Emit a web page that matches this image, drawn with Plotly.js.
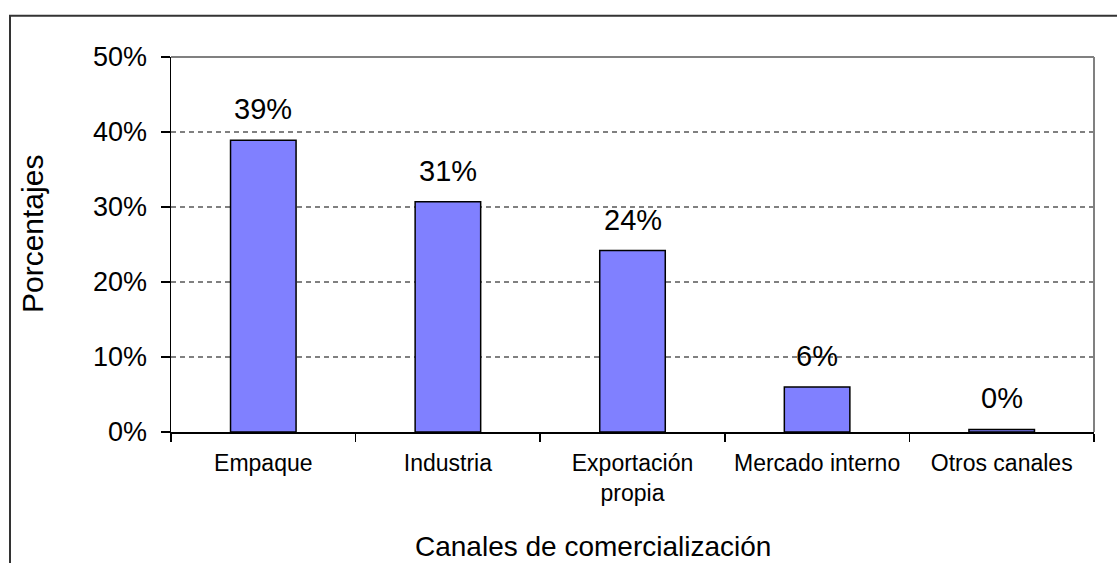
<!DOCTYPE html>
<html>
<head>
<meta charset="utf-8">
<script src="https://cdn.plot.ly/plotly-3.0.1.min.js"></script>
<style>html,body{margin:0;padding:0;background:#fff;}#chart{width:1117px;height:563px;}</style>
</head>
<body>
<div id="chart"></div>
<script>
var categories = ["Empaque", "Industria", "Exportación<br>propia", "Mercado interno", "Otros canales"];
var values = [38.9, 30.7, 24.2, 6.0, 0.35];
var valueLabels = ["39%", "31%", "24%", "6%", "0%"];
var yTickValues = [0, 10, 20, 30, 40, 50];
var yTickLabels = ["0%", "10%", "20%", "30%", "40%", "50%"];
var xTitle = "Canales de comercialización";
var yTitle = "Porcentajes";

var FONT = "Liberation Sans, Arial, sans-serif";

var trace = {
  type: "bar",
  x: categories,
  y: values,
  marker: {color: "#8080FF", line: {color: "#000000", width: 1.5}},
  hoverinfo: "none"
};

var annotations = categories.map(function (c, i) {
  return {
    x: c, y: values[i], xref: "x", yref: "y",
    text: valueLabels[i], showarrow: false,
    yanchor: "bottom", yshift: 13,
    font: {family: FONT, size: 29, color: "#000"}
  };
});
annotations.push({
  x: (593 - 171) / 923, y: (432.3 - 547) / 375.6, xref: "paper", yref: "paper",
  text: xTitle, showarrow: false, xanchor: "center", yanchor: "middle",
  font: {family: FONT, size: 28, color: "#000"}
});
annotations.push({
  x: (32 - 171) / 923, y: (432.3 - 234) / 375.6, xref: "paper", yref: "paper",
  text: yTitle, showarrow: false, textangle: -90,
  xanchor: "center", yanchor: "middle",
  font: {family: FONT, size: 30, color: "#000"}
});

var layout = {
  width: 1117, height: 563,
  margin: {l: 171, r: 23, t: 57, b: 131, pad: 0},
  paper_bgcolor: "#ffffff", plot_bgcolor: "#ffffff",
  showlegend: false,
  bargap: 0.645,
  font: {family: FONT, color: "#000"},
  xaxis: {
    type: "category",
    showline: true, linecolor: "#000", linewidth: 1.5,
    ticks: "outside", ticklen: 8, tickwidth: 1.5, tickcolor: "#000",
    tickson: "boundaries",
    showgrid: false, zeroline: false,
    tickfont: {family: FONT, size: 23, color: "#000"},
    ticklabelstandoff: 10,
    fixedrange: true
  },
  yaxis: {
    range: [0, 50],
    tickvals: yTickValues, ticktext: yTickLabels,
    showline: true, linecolor: "#000", linewidth: 1.5,
    ticks: "outside", ticklen: 9, tickwidth: 1.5, tickcolor: "#000",
    showgrid: true, gridcolor: "#808080", gridwidth: 1.5, griddash: "5px,4px",
    zeroline: false,
    tickfont: {family: FONT, size: 27, color: "#000"},
    ticklabelstandoff: 8,
    fixedrange: true
  },
  annotations: annotations,
  shapes: [
    {type: "line", xref: "paper", yref: "paper", x0: 0, x1: 1, y0: 1, y1: 1,
     line: {color: "#808080", width: 2}, layer: "above"},
    {type: "line", xref: "paper", yref: "paper", x0: 1, x1: 1, y0: 0, y1: 1,
     line: {color: "#808080", width: 2}, layer: "above"},
    {type: "rect", xref: "paper", yref: "paper",
     x0: (10 - 171) / 923, x1: (1140 - 171) / 923,
     y0: (432.3 - 600) / 375.6, y1: (432.3 - 15.5) / 375.6,
     line: {color: "#333333", width: 2}, fillcolor: "rgba(0,0,0,0)", layer: "below"}
  ]
};

Plotly.newPlot("chart", [trace], layout, {displayModeBar: false, staticPlot: true});
</script>
</body>
</html>
